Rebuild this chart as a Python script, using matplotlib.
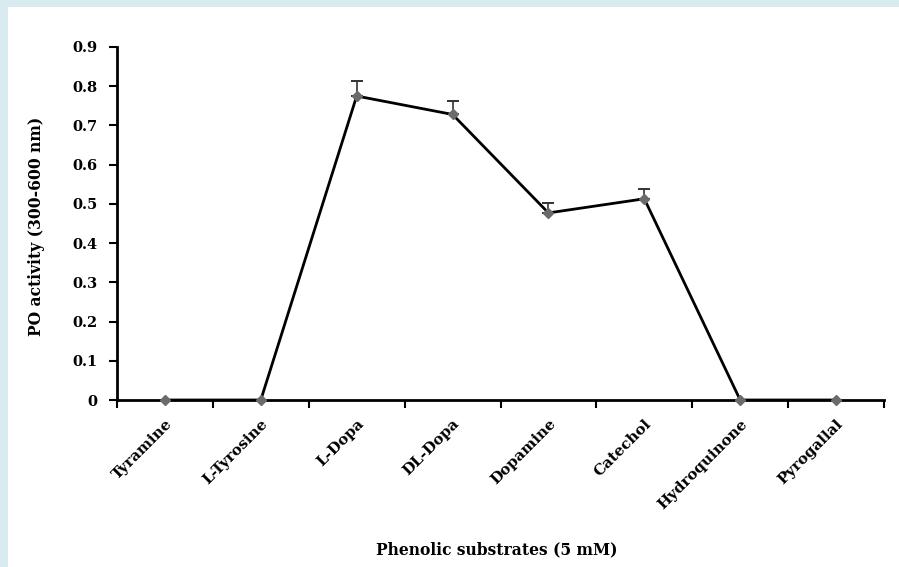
import matplotlib
matplotlib.use("Agg")
import matplotlib.pyplot as plt
from matplotlib.patches import Rectangle

# PO activity against each phenolic substrate (5 mM)
substrates = ["Tyramine", "L-Tyrosine", "L-Dopa", "DL-Dopa", "Dopamine",
              "Catechol", "Hydroquinone", "Pyrogallal"]
activity = [0.0, 0.0, 0.775, 0.728, 0.477, 0.513, 0.0, 0.0]
error_up = [0.0, 0.0, 0.039, 0.035, 0.026, 0.026, 0.0, 0.0]
y_ticks = [0.0, 0.1, 0.2, 0.3, 0.4, 0.5, 0.6, 0.7, 0.8, 0.9]

plt.rcParams['font.family'] = ['DejaVu Serif']
plt.rcParams['font.weight'] = 'bold'

W, H = 899, 567
fig = plt.figure(figsize=(W / 100, H / 100), dpi=100, facecolor='#d7ebf0')
# white page area inside the light blue frame
fig.patches.append(Rectangle((8 / W, 0), 1, 1 - 7 / H, transform=fig.transFigure,
                             facecolor='white', edgecolor='none', zorder=-10))

ax = fig.add_axes([117 / W, 1 - 400 / H, (884 - 117) / W, (400 - 47) / H])
ax.set_facecolor('none')

x = list(range(len(substrates)))
# upper error bars only, and only where there is an error
ex = [i for i in x if error_up[i] > 0]
ax.errorbar(ex, [activity[i] for i in ex],
            yerr=[[0] * len(ex), [error_up[i] for i in ex]], fmt='none',
            ecolor='#333333', elinewidth=1.2, capsize=4.5, capthick=1.4, zorder=2)
ax.plot(x, activity, color='black', linewidth=2, zorder=3)
ax.plot(x, activity, linestyle='none', marker='D', markersize=5,
        color='#6b6b6b', zorder=4, clip_on=False)

ax.set_xlim(-0.5, len(substrates) - 0.5)
ax.set_ylim(0, 0.9)
ax.set_yticks(y_ticks)
ax.set_yticklabels(["0" if v == 0 else f"{v:.1f}" for v in y_ticks])

# category ticks sit between the categories, labels at the centers
ax.set_xticks([i - 0.5 for i in range(len(substrates) + 1)])
ax.set_xticklabels([])
ax.set_xticks(x, minor=True)
ax.set_xticklabels(substrates, minor=True, rotation=45, ha='right', va='top',
                   rotation_mode='anchor', fontsize=10.8)
ax.tick_params(axis='x', which='minor', length=0, pad=12)
ax.tick_params(axis='x', which='major', length=6, width=1.5, direction='out')
ax.tick_params(axis='y', length=6, width=1.5, direction='out', pad=8,
               labelsize=10.5)

for side in ['top', 'right']:
    ax.spines[side].set_visible(False)
for side in ['left', 'bottom']:
    ax.spines[side].set_linewidth(2)

fig.text(497 / W, 1 - 550 / H, "Phenolic substrates (5 mM)", ha='center',
         va='center', fontsize=11.2, fontweight='bold')
fig.text(37 / W, 1 - 226 / H, "PO activity (300-600 nm)", ha='center',
         va='center', rotation=90, fontsize=11.2, fontweight='bold')

fig.savefig("out.png", dpi=100, facecolor=fig.get_facecolor())
